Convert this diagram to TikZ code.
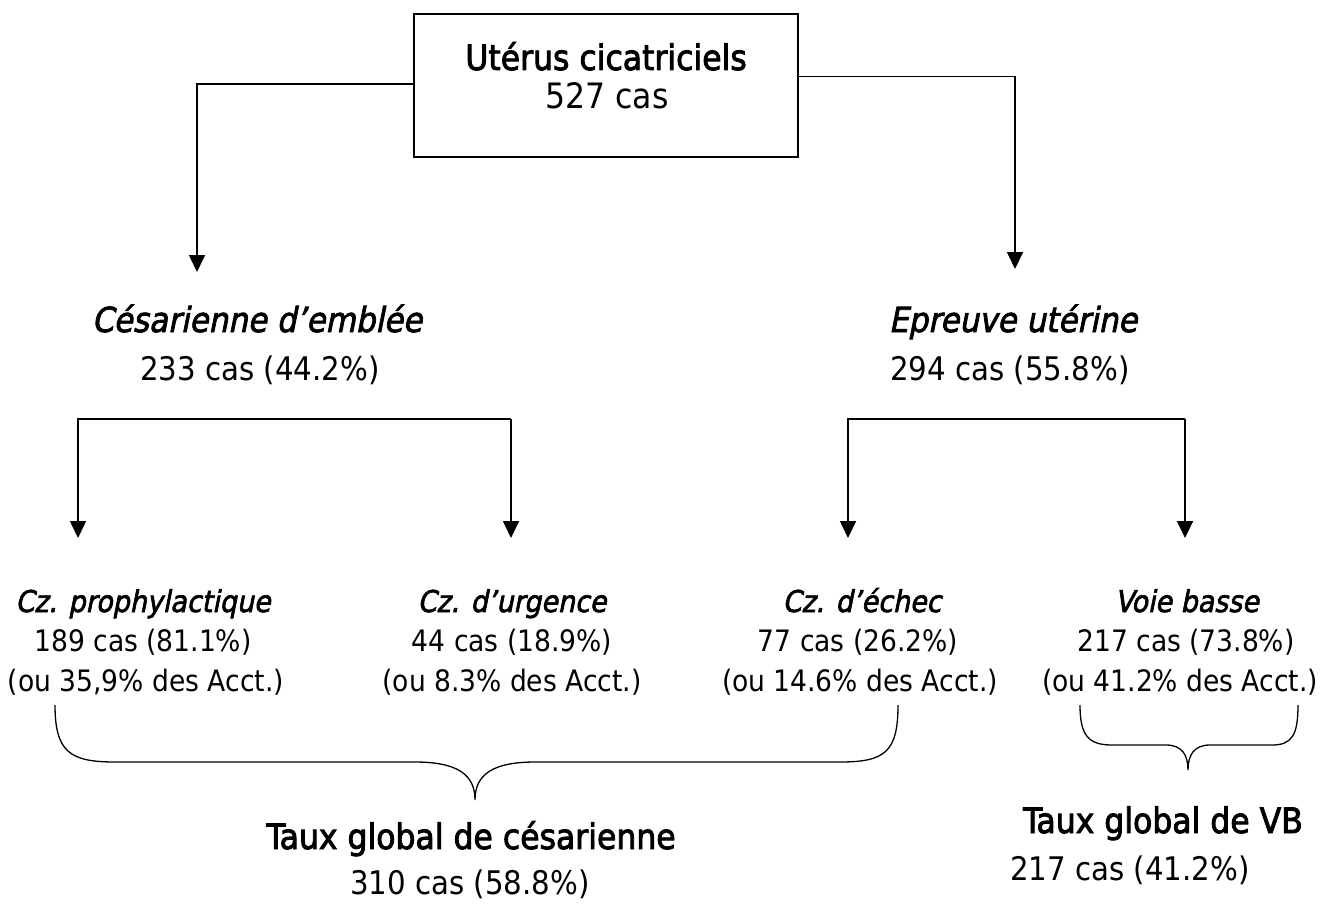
\documentclass[tikz,border=0pt]{standalone}
\usepackage{fontspec}
\setmainfont{DejaVu Sans Condensed}
\newfontfamily\tfont{DejaVu Sans Condensed}[FakeBold=2.5]
\newfontfamily\tifont{DejaVu Sans Condensed}[FakeBold=2.2,FakeSlant=0.2]
\usetikzlibrary{arrows.meta}
\tikzset{
  lbl/.style={anchor=base, inner sep=0pt, outer sep=0pt},
  big/.style={lbl, font=\tfont\fontsize{35pt}{40pt}\selectfont},
  bignum/.style={lbl, font=\fontsize{35pt}{40pt}\selectfont},
  mid/.style={lbl, font=\tifont\fontsize{34.5pt}{40pt}\selectfont},
  midnum/.style={lbl, font=\fontsize{32.5pt}{38pt}\selectfont},
  low/.style={lbl, font=\tifont\fontsize{30pt}{36pt}\selectfont},
  lownum/.style={lbl, font=\fontsize{29.5pt}{35pt}\selectfont},
  conn/.style={line width=1.7pt, -{Triangle[width=16pt,length=17pt]}},
  brace/.style={line width=1.3pt},
  box/.style={draw, line width=1.7pt, minimum width=384pt, minimum height=143pt, inner sep=0pt}
}
\begin{document}
\begin{tikzpicture}[x=1pt,y=-1pt]
\useasboundingbox (0,0) rectangle (1329,904);

% root
\node[box] (root) at (606,85.5) {};
\node[big] (roott) at (606,70) {Utérus cicatriciels};
\node[bignum] (rootn) at (607,109) {527 cas};

% level 1
\node[mid] (cesT) at (257,332) {Césarienne d’emblée};
\node[midnum] (cesN) at (260,380) {233 cas (44.2\%)};
\node[mid] (epT) at (1013,332) {Epreuve utérine};
\node[midnum] (epN) at (1010,380) {294 cas (55.8\%)};

\coordinate (a1) at (197,272);
\coordinate (a2) at (1015,269);
\draw[conn] ([yshift=1.5pt]root.west) -| (a1);
\draw[conn] ([yshift=9pt]root.east) -| (a2);

% level 2 brackets
\coordinate (bl) at (78,419);
\coordinate (br) at (511,419);
\coordinate (bl2) at (78,538);
\coordinate (br2) at (511,538);
\draw[conn] (br) -- (bl) -- (bl2);
\draw[conn] (br) -- (br2);

\coordinate (cl) at (848,419);
\coordinate (cr) at (1185,419);
\coordinate (cl2) at (848,538);
\coordinate (cr2) at (1185,538);
\draw[conn] (cr) -- (cl) -- (cl2);
\draw[conn] (cr) -- (cr2);

% level 2 labels
\node[low] (p1) at (143,612) {Cz. prophylactique};
\node[lownum] (p2) at (143,651) {189 cas (81.1\%)};
\node[lownum] (p3) at (146,691) {(ou 35,9\% des Acct.)};

\node[low] (u1) at (512,612) {Cz. d’urgence};
\node[lownum] (u2) at (512,651) {44 cas (18.9\%)};
\node[lownum] (u3) at (512,691) {(ou 8.3\% des Acct.)};

\node[low] (e1) at (862,612) {Cz. d’échec};
\node[lownum] (e2) at (858,651) {77 cas (26.2\%)};
\node[lownum] (e3) at (860,691) {(ou 14.6\% des Acct.)};

\node[low] (v1) at (1187,612) {Voie basse};
\node[lownum] (v2) at (1186,651) {217 cas (73.8\%)};
\node[lownum] (v3) at (1180,691) {(ou 41.2\% des Acct.)};

% braces
\draw[brace] (55,705) .. controls (55,752) and (70,762) .. (115,762)
  -- (415,762) .. controls (458,762) and (475,775) .. (475,800)
  .. controls (475,775) and (492,762) .. (535,762)
  -- (840,762) .. controls (885,762) and (898,752) .. (898,705);
\draw[brace] (1080,705) .. controls (1080,735) and (1088,745) .. (1112,745)
  -- (1166,745) .. controls (1182,745) and (1188,755) .. (1188,770)
  .. controls (1188,755) and (1194,745) .. (1210,745)
  -- (1272,745) .. controls (1292,745) and (1298,735) .. (1298,705);

% totals
\node[big] (tc) at (471,849) {Taux global de césarienne};
\node[midnum] (tcn) at (470,894) {310 cas (58.8\%)};
\node[big] (tv) at (1163,833) {Taux global de VB};
\node[midnum] (tvn) at (1130,880) {217 cas (41.2\%)};
\end{tikzpicture}
\end{document}
